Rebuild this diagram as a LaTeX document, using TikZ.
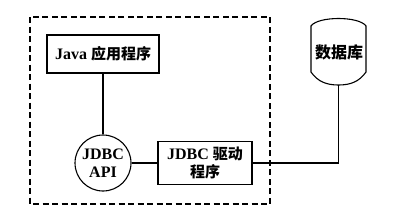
\documentclass[tikz,border=0pt]{standalone}
\usepackage{fontspec}
\setmainfont{Liberation Serif}
\newfontfamily\cjk{Noto Sans CJK SC}
\begin{document}
\begin{tikzpicture}[x=1pt,y=-1pt,
  line/.style={line width=1.1pt},
  boxstyle/.style={draw,line width=1.1pt,inner sep=0pt,align=center,font=\fontsize{16}{18}\selectfont\bfseries},
  frame/.style={draw,line width=1.3pt,dash pattern=on 6pt off 3.5pt}]
\useasboundingbox (0,0) rectangle (398,220);
\draw[frame] (30,17) rectangle (270,204);
\node[boxstyle,minimum width=112pt,minimum height=38pt] (java) at (103,54) {Java {\cjk\fontsize{15}{18}\selectfont 应用程序}};
\node[boxstyle,circle,minimum size=56pt] (api) at (103,163) {JDBC\\API};
\node[boxstyle,minimum width=94pt,minimum height=43pt] (drv) at (205,163) {JDBC {\cjk\fontsize{15}{18}\selectfont 驱动}\\{\cjk\fontsize{15}{18}\selectfont 程序}};
\node[font=\cjk\bfseries\fontsize{16}{18}\selectfont,inner sep=0pt] (db) at (339,52) {数据库};
\draw[line] (311,26) .. controls (318,16) and (359,16) .. (366,26) -- (366,72)
  .. controls (359,82) and (350,85) .. (338.5,85) .. controls (327,85) and (318,82) .. (311,72) -- cycle;
\coordinate (dbb) at (338.5,85);
\draw[line] (java) -- (api);
\draw[line] (api) -- (drv);
\draw[line] (drv.east) -| (dbb);
\end{tikzpicture}
\end{document}
